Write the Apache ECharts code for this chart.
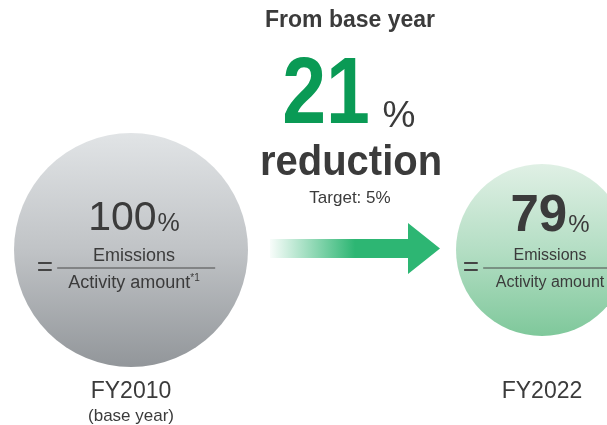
<!DOCTYPE html>
<html><head><meta charset="utf-8">
<script src="https://cdn.jsdelivr.net/npm/echarts@6/dist/echarts.min.js"></script>
<style>html,body{margin:0;padding:0;background:#fff}#c{width:607px;height:425px}</style>
</head><body><div id="c"></div>
<script>
// ---- data ----
const categories = ['FY2010', 'FY2022'];
const categoryNotes = ['(base year)', ''];
const emissionIntensity = [100, 79];
const reductionFromBase = [21];
const reductionTarget = [5];
const headlineTexts = ['From base year', 'reduction', 'Target: '];
const fractionNumerators = ['Emissions', 'Emissions'];
const fractionDenominators = ['Activity amount', 'Activity amount'];
const footnoteMarks = ['*1', ''];

// ---- styles ----
const FONT = '"Liberation Sans", Arial, Helvetica, sans-serif';
const TXT = '#3b3b3b';
const circleColors = [
  {type:'linear',x:0,y:0,x2:0,y2:1,colorStops:[{offset:0,color:'#e1e4e6'},{offset:0.5,color:'#c0c3c6'},{offset:1,color:'#92969a'}]},
  {type:'linear',x:0,y:0,x2:0,y2:1,colorStops:[{offset:0,color:'#e0f0e5'},{offset:0.5,color:'#b4dec4'},{offset:1,color:'#7fc89b'}]}
];
const circleSizes = [234, 172];
const labelOffsets = [[3, -11], [8, -11]];

const chart = echarts.init(document.getElementById('c'), null, {renderer:'canvas'});

const rich = {
  num0: {fontFamily:FONT, fontSize:41, color:TXT, lineHeight:64, padding:[4,0,0,0]},
  num1: {fontFamily:FONT, fontSize:51, fontWeight:'bold', color:TXT, lineHeight:64},
  pct0: {fontFamily:FONT, fontSize:25, color:TXT, lineHeight:64, padding:[14,0,0,1]},
  pct1: {fontFamily:FONT, fontSize:24, color:TXT, lineHeight:64, padding:[16,0,0,1]},
  top0: {fontFamily:FONT, fontSize:18, color:TXT, lineHeight:14},
  top1: {fontFamily:FONT, fontSize:16, color:TXT, lineHeight:14},
  eq: {fontFamily:FONT, fontSize:28, color:'#444', lineHeight:10, padding:[0,4,0,0]},
  bar0: {width:158, height:1, backgroundColor:'#4a4a4a', fontSize:1, lineHeight:10},
  bar1: {width:154, height:1, backgroundColor:'#4a4a4a', fontSize:1, lineHeight:10},
  sp: {width:16, fontSize:1, lineHeight:10},
  bot0: {fontFamily:FONT, fontSize:18, color:TXT, lineHeight:20},
  bot1: {fontFamily:FONT, fontSize:16, color:TXT, lineHeight:20},
  sup: {fontFamily:FONT, fontSize:10, color:TXT, lineHeight:20, verticalAlign:'top'}
};

const option = {
  animation: false,
  backgroundColor: '#ffffff',
  grid: {left:131, right:65, top:125, bottom:50},
  xAxis: {
    type:'category', data:categories, boundaryGap:false,
    axisLine:{show:false}, axisTick:{show:false}, splitLine:{show:false},
    axisLabel:{
      margin:5, verticalAlign:'top',
      formatter:(v, i) => `{fy|${v}}` + (categoryNotes[i] ? `\n{note|${categoryNotes[i]}}` : ''),
      rich:{
        fy:{fontFamily:FONT, fontSize:23, color:TXT, lineHeight:24},
        note:{fontFamily:FONT, fontSize:17, color:TXT, lineHeight:24}
      }
    }
  },
  yAxis: {type:'value', min:-1, max:1, show:false},
  series: [{
    type:'scatter',
    symbol:'circle',
    data: categories.map((c, i) => ({
      value:[c, 0],
      symbolSize:circleSizes[i],
      itemStyle:{color:circleColors[i], opacity:1},
      label:{offset:labelOffsets[i]}
    })),
    itemStyle:{opacity:1},
    label:{
      show:true, position:'inside', align:'center', verticalAlign:'middle',
      formatter: p => {
        const i = p.dataIndex;
        return `{num${i}|${emissionIntensity[i]}}{pct${i}|%}\n` +
               `{top${i}|${fractionNumerators[i]}}\n` +
               `{eq|=}{bar${i}| }` + (i === 0 ? '{sp| }' : '') + '\n' +
               `{bot${i}|${fractionDenominators[i]}}` + (footnoteMarks[i] ? `{sup|${footnoteMarks[i]}}` : '');
      },
      rich: rich
    },
    emphasis:{disabled:true}
  }],
  graphic: [
    {type:'polygon', silent:true,
     shape:{points:[[270,239],[408,239],[408,223],[440,248.5],[408,274],[408,258],[270,258]]},
     style:{fill:{type:'linear',x:0,y:0,x2:1,y2:0,colorStops:[
       {offset:0,color:'rgba(45,182,115,0.03)'},{offset:0.5,color:'#2db673'},{offset:1,color:'#2db673'}]}}},
    {type:'text', x:350, y:21, style:{text:headlineTexts[0], font:'bold 23px '+FONT, fill:TXT, align:'center', verticalAlign:'middle'}},
    {type:'text', x:326, y:97, scaleX:0.83, style:{text:String(reductionFromBase[0]), font:'bold 95px '+FONT, fill:'#0a9a55', align:'center', verticalAlign:'middle'}},
    {type:'text', x:399, y:117, style:{text:'%', font:'37px '+FONT, fill:TXT, align:'center', verticalAlign:'middle'}},
    {type:'text', x:351, y:163, scaleX:0.93, style:{text:headlineTexts[1], font:'bold 43px '+FONT, fill:TXT, align:'center', verticalAlign:'middle'}},
    {type:'text', x:350, y:198, style:{text:headlineTexts[2] + reductionTarget[0] + '%', font:'17px '+FONT, fill:TXT, align:'center', verticalAlign:'middle'}}
  ]
};
chart.setOption(option);
</script></body></html>
